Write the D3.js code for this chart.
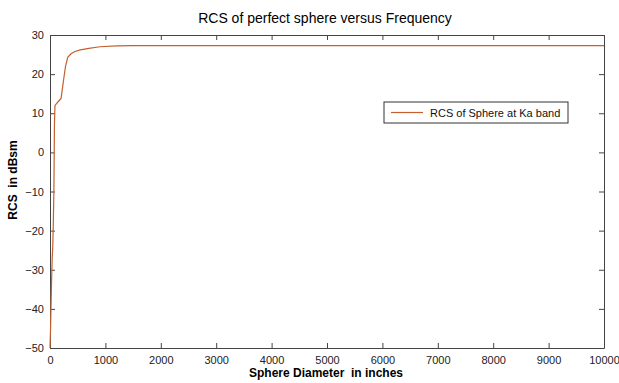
<!DOCTYPE html>
<html>
<head>
<meta charset="utf-8">
<script src="https://cdn.jsdelivr.net/npm/d3@7"></script>
<style>
body { margin: 0; background: #fff; }
svg { font-family: "Liberation Sans", Arial, sans-serif; }
text { white-space: pre; }
</style>
</head>
<body>
<svg width="619" height="383"></svg>
<script>
// sphere diameter (inches) and RCS (dBsm)
var diameters = [0, 10, 20, 30, 40, 50, 60, 70, 75, 80, 90, 150, 200, 250, 280, 320, 380, 450, 550, 700, 900, 1200, 1500, 10000];
var rcsValues = [-50, -45, -38, -32, -27, -24, -18, -10, -2, 7, 12, 13, 13.8, 19, 22, 24.3, 25.2, 25.8, 26.2, 26.6, 27.0, 27.2, 27.3, 27.3];
var xTicks = [0, 1000, 2000, 3000, 4000, 5000, 6000, 7000, 8000, 9000, 10000];
var yTicks = [-50, -40, -30, -20, -10, 0, 10, 20, 30];
var legendLabel = "RCS of Sphere at Ka band";

var svg = d3.select("svg");
var box = {left: 50, right: 604, top: 35, bottom: 348};

var xscale = d3.scaleLinear().domain([0, 10000]).range([box.left, box.right]);
var yscale = d3.scaleLinear().domain([-50, 30]).range([box.bottom, box.top]);

var points = diameters.map(function(d, i) {
    return {x: d, y: rcsValues[i]};
});

// axes, ticks pointing inward like matlab
var bottomAxis = d3.axisBottom(xscale).tickValues(xTicks).tickFormat(d3.format("d"))
    .tickSizeInner(-5).tickSizeOuter(0).tickPadding(8);
var leftAxis = d3.axisLeft(yscale).tickValues(yTicks).tickFormat(d3.format("d"))
    .tickSizeInner(-5).tickSizeOuter(0).tickPadding(6);
var topAxis = d3.axisTop(xscale).tickValues(xTicks).tickSizeInner(-5).tickSizeOuter(0).tickFormat("");
var rightAxis = d3.axisRight(yscale).tickValues(yTicks).tickSizeInner(-5).tickSizeOuter(0).tickFormat("");

var styleAxis = function(g) {
    g.selectAll("path").attr("stroke", "#444");
    g.selectAll("line").attr("stroke", "#444");
    g.selectAll("text").attr("fill", "#222").style("font-size", "11px");
};

svg.append("g").attr("transform", "translate(0," + box.bottom + ")").call(bottomAxis).call(styleAxis);
svg.append("g").attr("transform", "translate(" + box.left + ",0)").call(leftAxis).call(styleAxis);
svg.append("g").attr("transform", "translate(0," + box.top + ")").call(topAxis).call(styleAxis);
svg.append("g").attr("transform", "translate(" + box.right + ",0)").call(rightAxis).call(styleAxis);

// the curve
var line = d3.line()
    .x(function(d) { return xscale(d.x); })
    .y(function(d) { return yscale(d.y); });

svg.append("path")
    .datum(points)
    .attr("d", line)
    .attr("fill", "none")
    .attr("stroke", "#c4602e")
    .attr("stroke-width", 1.2);

// titles
svg.append("text")
    .attr("x", 325).attr("y", 23)
    .attr("text-anchor", "middle")
    .style("font-size", "14px")
    .text("RCS of perfect sphere versus Frequency");

svg.append("text")
    .attr("x", 326).attr("y", 377)
    .attr("text-anchor", "middle")
    .style("font-size", "12px").style("font-weight", "bold")
    .text("Sphere Diameter  in inches");

svg.append("text")
    .attr("transform", "translate(17,180) rotate(-90)")
    .attr("text-anchor", "middle")
    .style("font-size", "12px").style("font-weight", "bold")
    .text("RCS  in dBsm");

// legend
var legend = svg.append("g");
legend.append("rect")
    .attr("x", 384).attr("y", 102).attr("width", 184).attr("height", 21)
    .attr("fill", "#fff").attr("stroke", "#333");
legend.append("line")
    .attr("x1", 391).attr("x2", 423).attr("y1", 112.5).attr("y2", 112.5)
    .attr("stroke", "#c4602e").attr("stroke-width", 1.2);
legend.append("text")
    .attr("x", 430).attr("y", 116.5)
    .style("font-size", "11px").attr("fill", "#111")
    .text(legendLabel);
</script>
</body>
</html>
